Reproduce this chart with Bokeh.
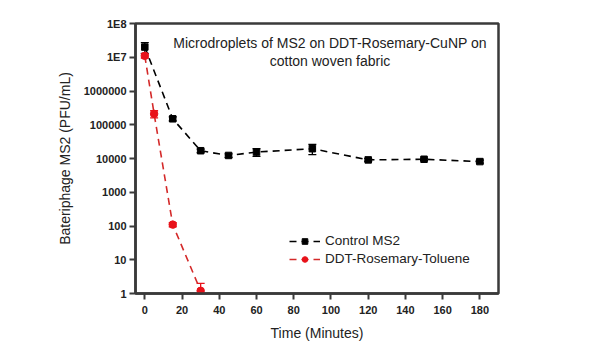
from bokeh.plotting import figure
from bokeh.models import ColumnDataSource, Whisker, TeeHead, FixedTicker, Legend, LegendItem, Label
from bokeh.embed import file_html
from bokeh.resources import INLINE

# Data
ctrl_t = [0, 15, 30, 45, 60, 90, 120, 150, 180]
ctrl_v = [2.0e7, 1.5e5, 1.7e4, 1.23e4, 1.55e4, 1.95e4, 9.1e3, 9.5e3, 8.1e3]
ctrl_e = [7.0e6, 2.0e4, 2.0e3, 1.5e3, 4.0e3, 6.5e3, 8.0e2, 8.0e2, 8.0e2]

ddt_t = [0, 5, 15, 30]
ddt_v = [1.1e7, 2.1e5, 110, 1.2]
ddt_e = [1.5e6, 5.0e4, 15, 0.8]

y_ticks = [1, 10, 100, 1000, 10000, 100000, 1000000, 10000000, 100000000]
y_tick_labels = ["1", "10", "100", "1000", "10000", "100000", "1000000", "1E7", "1E8"]
x_ticks = [0, 20, 40, 60, 80, 100, 120, 140, 160, 180]

title_lines = ["Microdroplets of MS2 on DDT-Rosemary-CuNP on", "cotton woven fabric"]

FONT = "Liberation Sans"
AX = "#3a3a3a"

p = figure(width=597, height=354, y_axis_type="log",
           x_range=(-5, 190), y_range=(1, 1e8),
           output_backend="svg", toolbar_location=None,
           min_border_left=135, min_border_right=99,
           min_border_top=23, min_border_bottom=61)
p.grid.visible = False
p.outline_line_color = AX
p.outline_line_width = 2.5
p.background_fill_color = "white"
p.border_fill_color = "white"

for ax in (p.xaxis, p.yaxis):
    ax.axis_line_width = 2.5
    ax.axis_line_color = AX
    ax.major_tick_line_color = AX
    ax.major_tick_line_width = 2
    ax.major_tick_out = 6
    ax.major_tick_in = 0
    ax.minor_tick_line_color = None
    ax.major_label_text_font = FONT
    ax.major_label_text_font_style = "bold"
    ax.major_label_text_font_size = "11px"
    ax.major_label_text_color = "#222222"
    ax.axis_label_text_font = FONT
    ax.axis_label_text_font_style = "normal"
    ax.axis_label_text_font_size = "14px"
    ax.axis_label_text_color = "#222222"

p.xaxis.ticker = FixedTicker(ticks=x_ticks)
p.yaxis.ticker = FixedTicker(ticks=y_ticks)
p.yaxis.major_label_overrides = {t: l for t, l in zip(y_ticks, y_tick_labels)}
p.xaxis.axis_label = "Time (Minutes)"
p.yaxis.axis_label = "Bateriphage MS2 (PFU/mL)"
p.xaxis.major_label_standoff = 6
p.yaxis.major_label_standoff = 3
p.yaxis.axis_label_standoff = 8
p.xaxis.axis_label_standoff = 8

cs = ColumnDataSource(dict(x=ctrl_t, y=ctrl_v,
                           lo=[v - e for v, e in zip(ctrl_v, ctrl_e)],
                           hi=[v + e for v, e in zip(ctrl_v, ctrl_e)]))
ds = ColumnDataSource(dict(x=ddt_t, y=ddt_v,
                           lo=[max(v - e, 0.5) for v, e in zip(ddt_v, ddt_e)],
                           hi=[v + e for v, e in zip(ddt_v, ddt_e)]))

l1 = p.line("x", "y", source=cs, line_color="black", line_width=1.6, line_dash="7 5")
m1 = p.scatter("x", "y", source=cs, marker="square", size=6.5, color="black")
w1 = Whisker(source=cs, base="x", lower="lo", upper="hi", line_color="black", line_width=1.3,
             upper_head=TeeHead(size=8, line_color="black", line_width=1.3),
             lower_head=TeeHead(size=8, line_color="black", line_width=1.3))
p.add_layout(w1)

red = "#e8121a"
l2 = p.line("x", "y", source=ds, line_color="#d42a2a", line_width=1.6, line_dash="7 5")
m2 = p.scatter("x", "y", source=ds, marker="circle", size=7.5, color=red)
w2 = Whisker(source=ds, base="x", lower="lo", upper="hi", line_color=red, line_width=1.3,
             upper_head=TeeHead(size=8, line_color=red, line_width=1.3),
             lower_head=TeeHead(size=8, line_color=red, line_width=1.3))
p.add_layout(w2)

legend = Legend(items=[LegendItem(label="Control MS2", renderers=[l1, m1]),
                       LegendItem(label="DDT-Rosemary-Toluene", renderers=[l2, m2])],
                location=(154, 27), border_line_color=None, background_fill_alpha=0,
                padding=0, margin=0, spacing=3, glyph_width=31, glyph_height=14,
                label_height=14, label_standoff=5,
                label_text_font=FONT, label_text_font_size="13.5px", label_text_color="#222222")
p.add_layout(legend)

p.add_layout(Label(x=99.5, y=2.6e7, text=title_lines[0], text_align="center", text_baseline="middle",
                   text_font=FONT, text_font_size="14px", text_color="#222222"))
p.add_layout(Label(x=99.5, y=7.6e6, text=title_lines[1], text_align="center", text_baseline="middle",
                   text_font=FONT, text_font_size="14px", text_color="#222222"))

open("out.html", "w").write(file_html(p, INLINE))
